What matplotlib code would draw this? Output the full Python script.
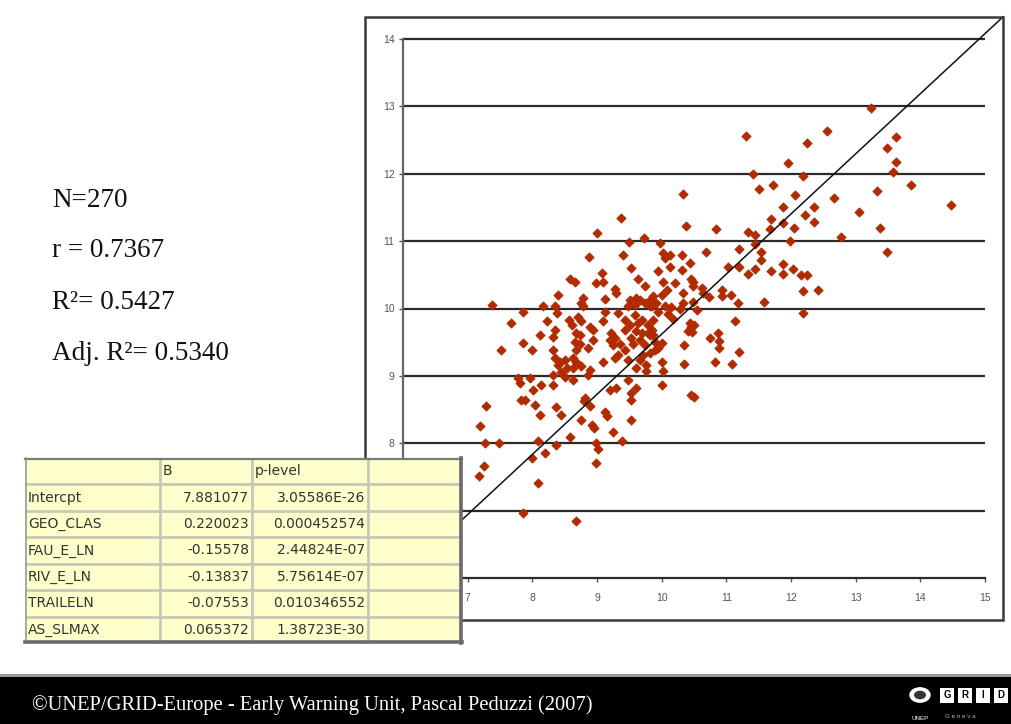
import matplotlib
matplotlib.use("Agg")
import matplotlib.pyplot as plt
from matplotlib.patches import Rectangle, Circle
import numpy as np

# ---------------- data ----------------
obs_x = [13.23, 11.30, 12.56, 12.25, 13.62, 13.49, 13.62, 13.58, 11.95, 11.41,
         12.19, 11.72, 11.51, 13.86, 10.33, 13.33, 12.06, 12.66, 12.35, 11.87,
         14.48, 13.05, 12.22, 11.69, 12.35, 11.87, 10.37, 12.05, 11.68, 10.84,
         13.37, 11.34, 11.44, 12.77, 11.98, 11.44, 13.49, 10.68, 11.19, 11.53,
         11.54, 10.44, 11.02, 11.19, 11.44, 11.33, 11.69, 11.88, 11.88, 12.03,
         12.16, 12.24, 12.19, 12.42, 10.46, 10.48, 10.93, 11.07, 10.73, 11.18,
         11.58, 10.64, 12.18, 11.14, 10.74, 10.87, 10.89, 10.89, 11.19, 10.83,
         11.09, 10.34, 10.34, 10.44, 10.45, 10.47, 10.40, 10.50, 10.45, 10.50,
         10.01, 10.00, 10.02, 10.00, 10.18, 10.54, 9.95, 9.89, 9.87, 9.85,
         9.87, 9.97, 10.02, 10.13, 10.31, 10.05, 10.13, 9.95, 10.31, 10.48,
         10.02, 10.08, 10.20, 10.00, 10.62, 10.93, 10.33, 10.33, 9.87, 9.82,
         9.92, 10.05, 10.48, 10.28, 10.15, 9.37, 9.00, 9.50, 9.73, 8.88,
         9.40, 9.52, 9.07, 9.10, 8.99, 8.58, 8.66, 9.64, 9.74, 9.28,
         9.30, 8.40, 8.79, 8.79, 9.12, 9.51, 9.61, 9.48, 9.82, 9.85,
         8.17, 8.35, 8.38, 8.22, 8.35, 8.71, 8.76, 8.89, 8.94, 8.68,
         8.61, 8.56, 9.12, 9.10, 9.33, 9.59, 9.74, 9.43, 9.51, 9.64,
         9.69, 9.79, 9.43, 9.61, 9.69, 9.79, 9.53, 9.66, 9.56, 9.74,
         9.22, 9.28, 9.20, 9.35, 9.25, 8.74, 8.66, 8.74, 8.94, 8.86,
         8.68, 8.32, 8.35, 8.43, 8.40, 8.50, 8.53, 8.63, 8.68, 8.76,
         8.63, 8.12, 9.10, 9.33, 9.28, 9.48, 9.71, 9.82, 9.66, 9.76,
         9.61, 9.76, 8.89, 8.86, 8.32, 8.50, 8.63, 8.45, 9.48, 9.30,
         8.14, 8.32, 9.20, 9.53, 9.61, 8.81, 7.37, 7.86, 7.67, 7.85,
         7.99, 7.52, 7.78, 7.81, 7.96, 8.01, 7.83, 7.89, 7.28, 8.04,
         8.12, 8.37, 8.45, 7.19, 7.27, 7.49, 8.09, 8.19, 8.37, 8.58,
         8.80, 8.89, 8.93, 8.96, 8.76, 9.12, 9.15, 9.24, 8.99, 9.02,
         8.99, 9.38, 9.53, 9.53, 7.25, 7.18, 7.99, 8.08, 7.86, 8.68,
         9.87, 9.66, 8.76, 9.43, 9.90, 9.82, 8.32, 9.95, 10.10, 9.58]
obs_y = [12.97, 12.56, 12.64, 12.46, 12.55, 12.38, 12.17, 12.02, 12.16, 12.00,
         11.97, 11.84, 11.77, 11.84, 11.70, 11.74, 11.68, 11.64, 11.51, 11.50,
         11.53, 11.43, 11.39, 11.33, 11.28, 11.27, 11.23, 11.20, 11.18, 11.18,
         11.19, 11.13, 11.09, 11.06, 11.00, 10.95, 10.84, 10.84, 10.89, 10.84,
         10.72, 10.67, 10.62, 10.61, 10.58, 10.51, 10.56, 10.66, 10.51, 10.58,
         10.49, 10.49, 10.26, 10.28, 10.44, 10.34, 10.27, 10.20, 10.17, 10.08,
         10.09, 10.23, 9.93, 9.82, 9.56, 9.63, 9.52, 9.41, 9.35, 9.21,
         9.17, 9.17, 9.46, 9.78, 9.72, 9.65, 9.66, 9.75, 8.72, 8.68,
         9.49, 9.20, 9.07, 8.87, 9.85, 9.98, 9.41, 9.38, 9.61, 9.68,
         9.83, 10.97, 10.82, 10.80, 10.80, 10.75, 10.62, 10.55, 10.57, 10.40,
         10.40, 10.28, 10.38, 10.20, 10.30, 10.18, 10.23, 10.08, 10.18, 10.03,
         10.08, 10.03, 10.10, 10.00, 10.02, 11.34, 11.12, 10.99, 11.04, 10.77,
         10.80, 10.60, 10.52, 10.40, 10.38, 10.44, 10.40, 10.44, 10.34, 10.29,
         10.23, 10.20, 10.15, 10.04, 10.14, 10.13, 10.15, 10.04, 10.13, 10.03,
         10.03, 10.03, 9.93, 9.81, 9.68, 9.88, 9.81, 9.73, 9.68, 9.63,
         9.76, 9.83, 9.95, 9.81, 9.93, 10.05, 10.08, 9.83, 9.76, 9.78,
         9.83, 9.76, 9.68, 9.66, 9.63, 9.63, 9.56, 9.53, 9.48, 9.46,
         9.63, 9.56, 9.53, 9.48, 9.46, 9.61, 9.51, 9.48, 9.53, 9.41,
         9.39, 9.39, 9.26, 9.21, 9.16, 9.24, 9.11, 9.26, 9.21, 9.14,
         9.11, 9.61, 9.21, 9.31, 9.26, 9.24, 9.31, 9.34, 9.24, 9.16,
         9.11, 9.07, 9.09, 9.01, 9.01, 8.99, 8.94, 9.06, 8.94, 8.82,
         8.87, 8.87, 8.79, 8.74, 8.82, 8.67, 10.05, 9.95, 9.79, 9.49,
         9.39, 9.38, 8.97, 8.89, 8.97, 8.79, 8.64, 8.64, 8.55, 8.57,
         8.42, 8.54, 8.42, 8.26, 8.01, 8.01, 8.03, 7.86, 7.98, 8.10,
         8.63, 8.55, 8.27, 8.22, 8.35, 8.47, 8.40, 8.17, 8.00, 7.91,
         7.70, 8.03, 8.64, 8.34, 7.66, 7.52, 7.78, 7.41, 6.97, 6.85,
         10.10, 10.12, 10.08, 9.38, 9.51, 9.61, 9.58, 9.95, 9.92, 9.90]

diag_x = [6.0, 15.28]
diag_y = [6.05, 14.33]

x_ticks = [7, 8, 9, 10, 11, 12, 13, 14, 15]
y_ticks = [6, 7, 8, 9, 10, 11, 12, 13, 14]
grid_y = [7, 8, 9, 10, 11, 12, 13, 14]

stats_lines = ["N=270", "r = 0.7367", "R\u00b2= 0.5427", "Adj. R\u00b2= 0.5340"]

tab_header = ["", "B", "p-level", ""]
tab_vars = ["Intercpt", "GEO_CLAS", "FAU_E_LN", "RIV_E_LN", "TRAILELN", "AS_SLMAX"]
tab_b = ["7.881077", "0.220023", "-0.15578", "-0.13837", "-0.07553", "0.065372"]
tab_p = ["3.05586E-26", "0.000452574", "2.44824E-07", "5.75614E-07",
         "0.010346552", "1.38723E-30"]

footer_text = "\u00a9UNEP/GRID-Europe - Early Warning Unit, Pascal Peduzzi (2007)"

# ---------------- figure ----------------
W, H = 1011, 724
fig = plt.figure(figsize=(W / 100, H / 100), dpi=100)
fig.patch.set_facecolor('white')


def fx(px):
    return px / W


def fy(py):
    return 1 - py / H


# outer chart frame
fig.patches.append(Rectangle((fx(365), fy(620)), fx(1003) - fx(365), fy(17) - fy(620),
                             transform=fig.transFigure, fill=False,
                             ec='#3a3a3a', lw=1.8, zorder=0))

ax = fig.add_axes([fx(403), fy(578), fx(985) - fx(403), fy(39) - fy(578)])
ax.set_xlim(6, 15)
ax.set_ylim(6, 14)
ax.set_xticks(x_ticks)
ax.set_yticks(y_ticks)
ax.hlines(grid_y, 6, 15, colors='#2a2a2a', lw=1.6, zorder=1, clip_on=False)
for s in ['top', 'right']:
    ax.spines[s].set_visible(False)
ax.spines['left'].set_color('#666666')
ax.spines['left'].set_linewidth(1.6)
ax.spines['bottom'].set_color('#2a2a2a')
ax.spines['bottom'].set_linewidth(1.6)
ax.tick_params(axis='both', direction='out', length=3, width=1, colors='#555555',
               labelsize=7.5)
ax.tick_params(axis='x', pad=8)
ax.tick_params(axis='y', pad=3)
for lab in ax.get_xticklabels() + ax.get_yticklabels():
    lab.set_family('Liberation Sans')

ax.scatter(obs_x, obs_y, marker='D', s=22, c='#B22A00', edgecolors='#B22A00',
           linewidths=0.6, zorder=3)
ax.plot(diag_x, diag_y, color='#111111', lw=1.1, clip_on=False, zorder=4)

# stats text
baselines = [207, 257, 309, 360]
for txt, b in zip(stats_lines, baselines):
    fig.text(fx(52), fy(b), txt, family='Liberation Serif', fontsize=19.5,
             color='#111111', va='baseline', ha='left')

# table
tab_ax = fig.add_axes([fx(25), fy(643), fx(462) - fx(25), fy(458) - fy(643)], zorder=10)
tab_ax.set_xlim(0, 437)
tab_ax.set_ylim(185, 0)
tab_ax.axis('off')
col_edges = [0, 135, 227, 343, 437]
nrows = 1 + len(tab_vars)
rh = 185 / nrows
tab_ax.add_patch(Rectangle((0, 0), 437, 185, fc='#FFFFCC', ec='none', zorder=1))
for i in range(1, nrows):
    tab_ax.plot([0, 437], [i * rh, i * rh], color='#C8C8B8', lw=2, zorder=2)
for c in col_edges[1:-1]:
    tab_ax.plot([c, c], [0, 185], color='#C8C8B8', lw=2, zorder=2)
# bevel border
tab_ax.plot([0, 437], [0.8, 0.8], color='#7a7a7a', lw=1.6, zorder=3, clip_on=False)
tab_ax.plot([0.8, 0.8], [0, 185], color='#9a9a9a', lw=1.2, zorder=3, clip_on=False)
tab_ax.plot([435.5, 435.5], [0, 185], color='#6a6a6a', lw=2.6, zorder=3, clip_on=False)
tab_ax.plot([0, 437], [183.5, 183.5], color='#6a6a6a', lw=2.6, zorder=3, clip_on=False)

tf = dict(family='DejaVu Sans', fontsize=10, color='#333333', va='center')
tab_ax.text(col_edges[1] + 3, rh / 2, tab_header[1], ha='left', **tf)
tab_ax.text(col_edges[2] + 3, rh / 2, tab_header[2], ha='left', **tf)
for i, (v, b, p) in enumerate(zip(tab_vars, tab_b, tab_p)):
    yc = (i + 1.5) * rh
    tab_ax.text(3, yc, v, ha='left', **tf)
    tab_ax.text(col_edges[2] - 3, yc, b, ha='right', **tf)
    tab_ax.text(col_edges[3] - 3, yc, p, ha='right', **tf)

# footer
fig.patches.append(Rectangle((0, 0), 1, fy(677), transform=fig.transFigure,
                             fc='black', ec='none', zorder=0))
fig.patches.append(Rectangle((0, fy(677)), 1, fy(674) - fy(677), transform=fig.transFigure,
                             fc='#9a9a9a', ec='none', zorder=0))
fig.text(fx(32), fy(705), footer_text, family='Liberation Serif', fontsize=14.8,
         color='white', va='center', ha='left')

# logo
fig.patches.append(Circle((fx(920), fy(695)), 10 / W, transform=fig.transFigure,
                          fc='white', ec='white', zorder=1))
fig.patches.append(Circle((fx(920), fy(695)), 6 / W, transform=fig.transFigure,
                          fc='#333333', ec='none', zorder=2))
fig.text(fx(920), fy(718), "UNEP", color='white', fontsize=4.5, ha='center', va='center',
         family='Liberation Sans')
for k, ch in enumerate("GRID"):
    x0 = 940 + k * 18
    fig.patches.append(Rectangle((fx(x0), fy(703)), 14 / W, 15 / H, transform=fig.transFigure,
                                 fc='white', ec='none', zorder=1))
    fig.text(fx(x0 + 7), fy(695.5), ch, color='black', fontsize=7, ha='center',
             va='center', family='Liberation Sans', weight='bold', zorder=3)
fig.text(fx(945), fy(716), "G e n e v a", color='#bbbbbb', fontsize=4.5, ha='left',
         va='center', family='Liberation Sans')

fig.savefig('out.png', dpi=100)
